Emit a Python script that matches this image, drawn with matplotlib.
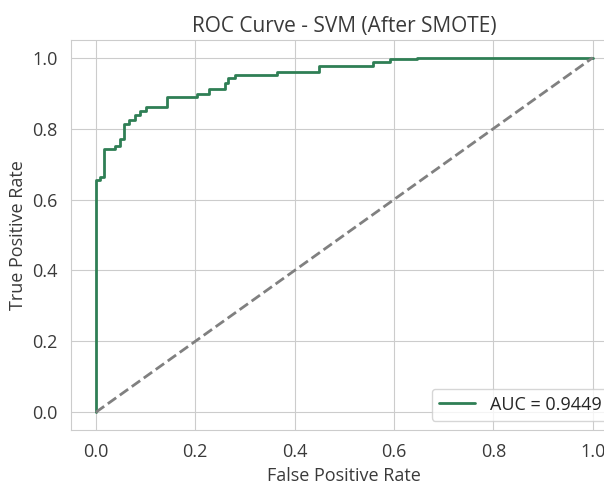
import matplotlib
matplotlib.use("Agg")
import matplotlib.pyplot as plt
import seaborn as sns

sns.set_style("whitegrid")
plt.rcParams['font.family'] = ['Open Sans', 'DejaVu Sans']

# ROC step points
fpr = [0.0, 0.0, 0.008, 0.008, 0.017, 0.017, 0.039, 0.039, 0.049, 0.049,
       0.056, 0.056, 0.066, 0.066, 0.079, 0.079, 0.088, 0.088, 0.100, 0.100,
       0.143, 0.143, 0.203, 0.203, 0.227, 0.227, 0.260, 0.260, 0.267, 0.267,
       0.280, 0.280, 0.364, 0.364, 0.450, 0.450, 0.558, 0.558, 0.592, 0.592,
       0.646, 0.646, 1.0]
tpr = [0.0, 0.654, 0.654, 0.663, 0.663, 0.743, 0.743, 0.751, 0.751, 0.771,
       0.771, 0.813, 0.813, 0.825, 0.825, 0.839, 0.839, 0.851, 0.851, 0.862,
       0.862, 0.888, 0.888, 0.898, 0.898, 0.912, 0.912, 0.928, 0.928, 0.943,
       0.943, 0.952, 0.952, 0.961, 0.961, 0.977, 0.977, 0.987, 0.987, 0.996,
       0.996, 1.0, 1.0]
auc_value = 0.9449
diag = [0, 1]

fig = plt.figure(figsize=(6.04, 4.86), dpi=100)
ax = fig.add_axes([0.1175, 0.1152, 0.905, 0.8025])
ax.plot(fpr, tpr, color='#2f7f55', lw=2, label=f'AUC = {auc_value:.4f}')
ax.plot(diag, diag, color='gray', lw=2, linestyle='--')
ax.set_xlim(-0.05, 1.05)
ax.set_ylim(-0.05, 1.05)
ax.set_xticks([0, 0.2, 0.4, 0.6, 0.8, 1.0])
ax.set_yticks([0, 0.2, 0.4, 0.6, 0.8, 1.0])
ax.tick_params(labelsize=13, colors='#3a3a3a', pad=6)
ax.set_xlabel('False Positive Rate', fontsize=13, color='#3a3a3a', labelpad=4)
ax.set_ylabel('True Positive Rate', fontsize=13, color='#3a3a3a', labelpad=4)
ax.set_title('ROC Curve - SVM (After SMOTE)', fontsize=15, color='#3a3a3a', pad=6)
ax.legend(loc='lower right', fontsize=13)
fig.savefig('out.png', dpi=100)
